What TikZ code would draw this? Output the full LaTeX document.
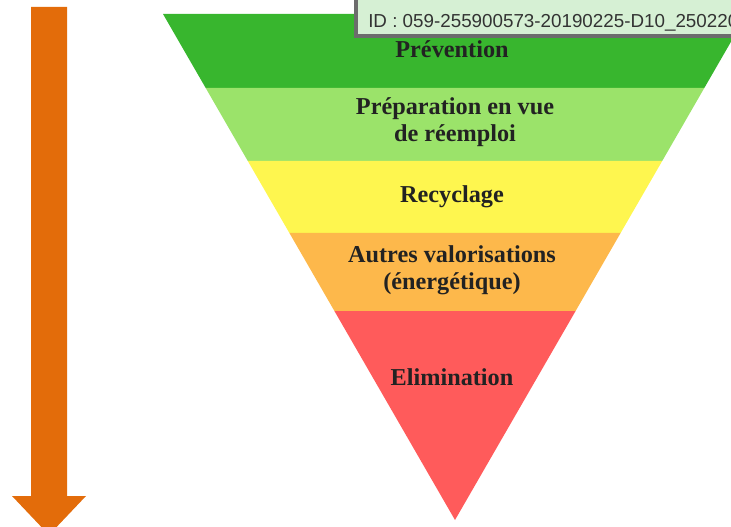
\documentclass[tikz,border=0pt]{standalone}
\usepackage{fontspec}
\setmainfont{Liberation Serif}
\newfontfamily\idfont{Liberation Sans}
\definecolor{arroworange}{HTML}{E36C0A}
\definecolor{bandgreen}{HTML}{38B62E}
\definecolor{bandlight}{HTML}{9BE36A}
\definecolor{bandyellow}{HTML}{FEF64F}
\definecolor{bandorange}{HTML}{FDB84B}
\definecolor{bandred}{HTML}{FF5B5B}
\definecolor{idfill}{HTML}{D6F0D4}
\definecolor{labeltext}{HTML}{222222}
\tikzstyle{level}=[text=labeltext,font=\fontsize{18.2}{20}\selectfont\bfseries,align=center]

\begin{document}
\begin{tikzpicture}[x=0.75pt,y=-0.75pt]
\useasboundingbox (0,0) rectangle (731,527);
\clip (0,0) rectangle (731,527);
% bands of the triangle
\fill[bandgreen] (163,14) -- (747,14) -- (704.3,88) -- (205.7,88) -- cycle;
\fill[bandlight] (205.7,88) -- (704.3,88) -- (662.2,161) -- (247.8,161) -- cycle;
\fill[bandyellow] (247.8,161) -- (662.2,161) -- (620.6,233) -- (289.4,233) -- cycle;
\fill[bandorange] (289.4,233) -- (620.6,233) -- (575.6,311) -- (334.4,311) -- cycle;
\fill[bandred] (334.4,311) -- (575.6,311) -- (455,520) -- cycle;
% labels
\node[level] at (452, 49) (prev) {Prévention};
\node[level] at (455, 122) (prep) {Préparation en vue\\de réemploi};
\node[level] at (452, 197) (recy) {Recyclage};
\node[level] at (452, 270) (valo) {Autres valorisations\\(énergétique)};
\node[level] at (452, 377) (elim) {Elimination};
% arrow
\fill[arroworange] (31,7) -- (67,7) -- (67,496) -- (86,496) -- (49,535) -- (12,496) -- (31,496) -- cycle;
% id stamp
\draw[draw=gray!85!black, fill=idfill, line width=2.4pt] (356,-10) rectangle (760,36);
\node[anchor=base west, text=black!80, font=\idfont\fontsize{14.1}{16}\selectfont, inner sep=0pt] at (368,28) (stamp) {ID : 059-255900573-20190225-D10\_250220};
\end{tikzpicture}
\end{document}
